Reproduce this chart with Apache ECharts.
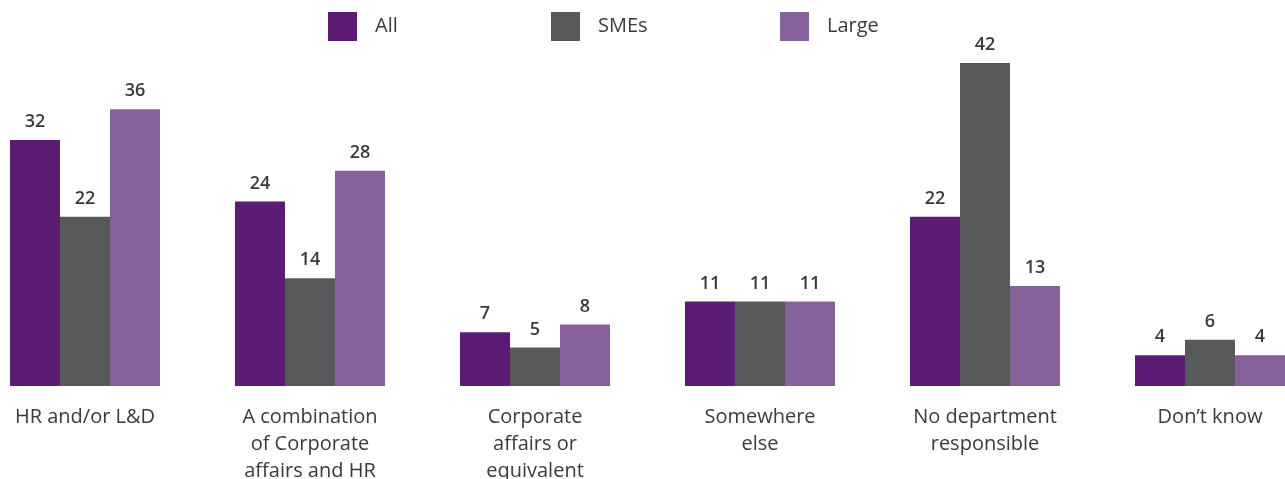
<!DOCTYPE html>
<html>
<head>
<meta charset="utf-8">
<script src="https://cdn.jsdelivr.net/npm/echarts@6/dist/echarts.min.js"></script>
<style>
  html, body { margin: 0; padding: 0; background: #ffffff; }
  #chart { width: 1285px; height: 479px; }
</style>
</head>
<body>
<div id="chart"></div>
<script>
// Where responsibility sits, by organisation size (%)
var categories = [
  'HR and/or L&D',
  'A combination\nof Corporate\naffairs and HR',
  'Corporate\naffairs or\nequivalent',
  'Somewhere\nelse',
  'No department\nresponsible',
  'Don\u2019t know'
];
var seriesNames = ['All', 'SMEs', 'Large'];
var allValues = [32, 24, 7, 11, 22, 4];
var smeValues = [22, 14, 5, 11, 42, 6];
var largeValues = [36, 28, 8, 11, 13, 4];

var colors = ['#5c1c73', '#58595b', '#86629c'];
var fontFamily = '"Open Sans", "Noto Sans", sans-serif';

var chart = echarts.init(document.getElementById('chart'), null, { renderer: 'canvas' });

function legendFor(i, left) {
  return {
    data: [seriesNames[i]],
    left: left,
    top: 12,
    padding: 0,
    itemWidth: 29,
    itemHeight: 29,
    itemGap: 0,
    icon: 'rect',
    selectedMode: false,
    textStyle: {
      fontFamily: fontFamily,
      fontSize: 20,
      color: '#3a3a3a',
      padding: [0, 0, 0, 13]
    }
  };
}

function barSeries(i, values) {
  return {
    name: seriesNames[i],
    type: 'bar',
    data: values,
    barWidth: 50,
    barGap: '0%',
    clip: false,
    itemStyle: { color: colors[i] },
    label: {
      show: true,
      position: 'top',
      distance: 9,
      fontFamily: fontFamily,
      fontSize: 18,
      fontWeight: 600,
      color: '#3a3a3a'
    }
  };
}

chart.setOption({
  animation: false,
  color: colors,
  legend: [legendFor(0, 328), legendFor(1, 551), legendFor(2, 780)],
  // category centres sit on the grid edges; bars overhang by half a group
  grid: {
    left: 85, right: 75, top: 1.5, bottom: 93,
    containLabel: false,
    outerBoundsMode: 'none'
  },
  xAxis: {
    type: 'category',
    data: categories,
    boundaryGap: false,
    axisLine: { show: false },
    axisTick: { show: false },
    splitLine: { show: false },
    axisLabel: {
      interval: 0,
      margin: 18,
      fontFamily: fontFamily,
      fontSize: 20,
      lineHeight: 27,
      color: '#3a3a3a',
      align: 'center'
    }
  },
  yAxis: {
    type: 'value',
    min: 0,
    max: 50,
    show: false,
    splitLine: { show: false }
  },
  series: [
    barSeries(0, allValues),
    barSeries(1, smeValues),
    barSeries(2, largeValues)
  ]
});
</script>
</body>
</html>
